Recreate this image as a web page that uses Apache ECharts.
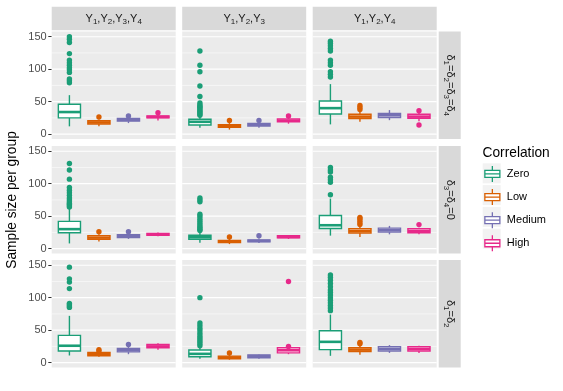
<!DOCTYPE html>
<html>
<head>
<meta charset="utf-8">
<script src="https://cdn.jsdelivr.net/npm/echarts@6/dist/echarts.min.js"></script>
<style>
html, body { margin: 0; padding: 0; background: #fff; }
#main { width: 563px; height: 391px; }
</style>
</head>
<body>
<div id="main"></div>
<script>
var groups = ['Zero', 'Low', 'Medium', 'High'];
var colors = ['#1B9E77', '#D95F02', '#7570B3', '#E7298A'];
var yTicks = [0, 50, 100, 150];
var yMinor = [25, 75, 125];
var colLabels = ['Y{s|1},Y{s|2},Y{s|3},Y{s|4}', 'Y{s|1},Y{s|2},Y{s|3}', 'Y{s|1},Y{s|2},Y{s|4}'];
var rowLabels = ['δ{s|1}=δ{s|2}=δ{s|3}=δ{s|4}', 'δ{s|3}=δ{s|4}=0', 'δ{s|1}=δ{s|2}'];

// box stats per group: [lower whisker, Q1, median, Q3, upper whisker]
var box_r1c1 = [[12, 25, 34, 46, 60], [12, 15.5, 18, 20.5, 23], [17, 20, 22, 24, 26], [21, 25, 26.5, 28, 30]];
var out_r1c1 = [[79, 82, 85, 95, 99, 102, 106, 110, 114, 124, 141, 146, 150], [26.5], [28], [33]];
var box_r1c2 = [[10, 14, 19, 23, 27], [7, 10.5, 12.5, 14.5, 17], [10, 12.5, 14.5, 16.5, 18], [16, 19, 21, 23.5, 25]];
var out_r1c2 = [[29, 31, 33, 35, 37, 39, 41, 43, 45, 48, 58, 74, 96, 106, 128], [21], [21], [28]];
var box_r1c3 = [[15, 31, 40, 51, 77], [19, 24, 27, 30.5, 35], [21.5, 25.5, 29, 32, 37], [20, 24.5, 27, 30.5, 33]];
var out_r1c3 = [[88, 92, 96, 106, 110, 114, 128, 132, 136, 140, 143], [38, 41, 44], [], [14, 36]];

var box_r2c1 = [[8, 24.5, 30, 42, 61], [11, 14.5, 17, 20, 22], [15, 17, 19.5, 21.5, 23], [19, 20.5, 22, 23.5, 25]];
var out_r2c1 = [[64, 66, 68, 70, 72, 75, 78, 82, 86, 90, 94, 107, 121, 131], [26], [26], []];
var box_r2c2 = [[9, 14.5, 17.5, 20.5, 26], [7, 9.5, 11, 12.5, 15], [8.5, 10.5, 12, 13.5, 16], [15, 16.5, 18, 20, 21]];
var out_r2c2 = [[28, 30, 32, 34, 37, 40, 43, 46, 50, 53, 72, 75, 78], [18], [20], []];
var box_r2c3 = [[20, 31, 36, 51, 77], [18, 24, 27, 30.5, 35], [22, 25.5, 28.5, 31.5, 35], [22, 24.5, 27, 30.5, 32]];
var out_r2c3 = [[83, 102, 106, 110, 118, 121, 125], [37, 40, 43, 46, 48], [], [37]];

var box_r3c1 = [[11, 18, 26, 42, 72], [9, 10.5, 13, 15.5, 17], [13, 16.5, 19, 22, 24], [20, 23, 25, 28, 30]];
var out_r3c1 = [[85, 87, 89, 91, 114, 124, 129, 147], [18, 20], [28], []];
var box_r3c2 = [[6, 9, 13.5, 19.5, 23], [4.5, 6, 8, 10, 12], [6, 7.5, 10, 12, 13], [13, 15, 19, 23, 24]];
var out_r3c2 = [[26, 29, 32, 35, 38, 41, 45, 49, 53, 57, 61, 100], [15], [], [25, 125]];
var box_r3c3 = [[10.5, 20, 32, 49, 74], [12, 17, 20, 23, 26], [15, 18, 21, 24.5, 27], [15, 18, 21, 24.5, 26]];
var out_r3c3 = [[80, 84, 88, 92, 96, 100, 104, 108, 112, 117, 122, 127, 131, 135], [29, 31], [], []];

var boxes = [[box_r1c1, box_r1c2, box_r1c3], [box_r2c1, box_r2c2, box_r2c3], [box_r3c1, box_r3c2, box_r3c3]];
var outs = [[out_r1c1, out_r1c2, out_r1c3], [out_r2c1, out_r2c2, out_r2c3], [out_r3c1, out_r3c2, out_r3c3]];

var font = 'Liberation Sans, Arial, sans-serif';
var colX = [51.7, 182.2, 312.7], panelW = 124;
var rowY = [31.5, 146, 260], panelH = 107.5;
var subRich = { s: { fontSize: 8, verticalAlign: 'bottom', lineHeight: 8, fontFamily: font, fill: '#1A1A1A' } };

var myChart = echarts.init(document.getElementById('main'));

function drawGridLine(params, api) {
  var cs = params.coordSys;
  var y = api.coord([2.5, api.value(1)])[1];
  return {
    type: 'line', silent: true,
    shape: { x1: cs.x, y1: y, x2: cs.x + cs.width, y2: y },
    style: { stroke: '#fff', lineWidth: api.value(2) ? 1.1 : 0.55 }
  };
}

function drawBox(params, api) {
  var x = api.value(0);
  var w = api.size([0.75, 0])[0];
  var p = [1, 2, 3, 4, 5].map(function (i) { return api.coord([x, api.value(i)]); });
  var cx = p[0][0];
  var col = api.visual('color');
  return {
    type: 'group',
    children: [
      { type: 'line', shape: { x1: cx, y1: p[0][1], x2: cx, y2: p[1][1] }, style: { stroke: col, lineWidth: 1.4 } },
      { type: 'line', shape: { x1: cx, y1: p[3][1], x2: cx, y2: p[4][1] }, style: { stroke: col, lineWidth: 1.4 } },
      { type: 'rect', shape: { x: cx - w / 2, y: p[3][1], width: w, height: p[1][1] - p[3][1] }, style: { fill: '#fff', stroke: col, lineWidth: 1.4 } },
      { type: 'line', shape: { x1: cx - w / 2, y1: p[2][1], x2: cx + w / 2, y2: p[2][1] }, style: { stroke: col, lineWidth: 2.6 } }
    ]
  };
}

var grid = [], xAxis = [], yAxis = [], series = [], graphic = [];
var gridData = yMinor.map(function (v) { return [2.5, v, 0]; }).concat(yTicks.map(function (v) { return [2.5, v, 1]; }));

for (var r = 0; r < 3; r++) {
  for (var c = 0; c < 3; c++) {
    var gi = r * 3 + c;
    grid.push({ left: colX[c], top: rowY[r], width: panelW, height: panelH, show: true, backgroundColor: '#EBEBEB', borderWidth: 0 });
    xAxis.push({ gridIndex: gi, type: 'value', min: 0.4, max: 4.6, show: false });
    yAxis.push({
      gridIndex: gi, type: 'value', min: -7.5, max: 158,
      axisLine: { show: false },
      splitLine: { show: false },
      axisTick: { show: c === 0, length: 3.4, customValues: yTicks, lineStyle: { color: '#333333' } },
      axisLabel: { show: c === 0, customValues: yTicks, color: '#4D4D4D', fontSize: 11, margin: 5, fontFamily: font }
    });
    series.push({
      type: 'custom', name: 'grid', xAxisIndex: gi, yAxisIndex: gi, z: 1, silent: true,
      renderItem: drawGridLine, encode: { x: 0, y: 1 }, data: gridData
    });
    for (var g = 0; g < 4; g++) {
      series.push({
        type: 'custom', name: groups[g], xAxisIndex: gi, yAxisIndex: gi, z: 2,
        itemStyle: { color: colors[g] },
        renderItem: drawBox, encode: { x: 0, y: [1, 2, 3, 4, 5] },
        data: [[g + 1].concat(boxes[r][c][g])]
      });
      series.push({
        type: 'scatter', name: groups[g] + ' outliers', xAxisIndex: gi, yAxisIndex: gi, z: 3,
        symbolSize: 5.4, itemStyle: { color: colors[g], opacity: 1 },
        data: outs[r][c][g].map(function (v) { return [g + 1, v]; })
      });
    }
  }
}

// strips
for (var c = 0; c < 3; c++) {
  graphic.push({ type: 'rect', shape: { x: colX[c], y: 6.7, width: panelW, height: 23.6 }, style: { fill: '#D9D9D9' }, silent: true });
  graphic.push({
    type: 'text', x: colX[c] + panelW / 2, y: 18.5, silent: true,
    style: { text: colLabels[c], rich: subRich, align: 'center', verticalAlign: 'middle', fill: '#1A1A1A', fontSize: 11, lineHeight: 14, fontFamily: font }
  });
}
for (var r = 0; r < 3; r++) {
  graphic.push({ type: 'rect', shape: { x: 438.7, y: rowY[r], width: 22, height: panelH }, style: { fill: '#D9D9D9' }, silent: true });
  graphic.push({
    type: 'text', x: 449.7, y: rowY[r] + panelH / 2, rotation: -Math.PI / 2, silent: true,
    style: { text: rowLabels[r], rich: subRich, align: 'center', verticalAlign: 'middle', fill: '#1A1A1A', fontSize: 11, lineHeight: 14, fontFamily: font }
  });
}
// axis title
graphic.push({
  type: 'text', x: 12, y: 200, rotation: Math.PI / 2, silent: true,
  style: { text: 'Sample size per group', align: 'center', verticalAlign: 'middle', fill: '#000', fontSize: 13.75, fontFamily: font }
});
// legend title and key backgrounds
graphic.push({
  type: 'text', x: 482.5, y: 153.5, silent: true,
  style: { text: 'Correlation', align: 'left', verticalAlign: 'middle', fill: '#000', fontSize: 13.75, fontFamily: font }
});
for (var g = 0; g < 4; g++) {
  graphic.push({ type: 'rect', z: 0, shape: { x: 482.7, y: 173.3 + g * 21.8 - 10, width: 18, height: 20 }, style: { fill: '#F2F2F2' }, silent: true });
}

var option = {
  animation: false,
  grid: grid,
  xAxis: xAxis,
  yAxis: yAxis,
  series: series,
  graphic: graphic,
  legend: {
    orient: 'vertical', left: 484.2, top: 165.3, padding: 0,
    itemWidth: 15, itemHeight: 16, itemGap: 5.8,
    icon: 'path://M0,4.5L15,4.5L15,11.5L0,11.5Z M0,8L15,8 M7.5,0L7.5,4.5 M7.5,11.5L7.5,16',
    selectedMode: false,
    textStyle: { fontSize: 11, color: '#000', fontFamily: font, padding: [0, 0, 0, 2] },
    data: groups.map(function (g, i) {
      return { name: g, itemStyle: { color: '#fff', borderColor: colors[i], borderWidth: 1.3 } };
    })
  }
};

option && myChart.setOption(option);
</script>
</body>
</html>
